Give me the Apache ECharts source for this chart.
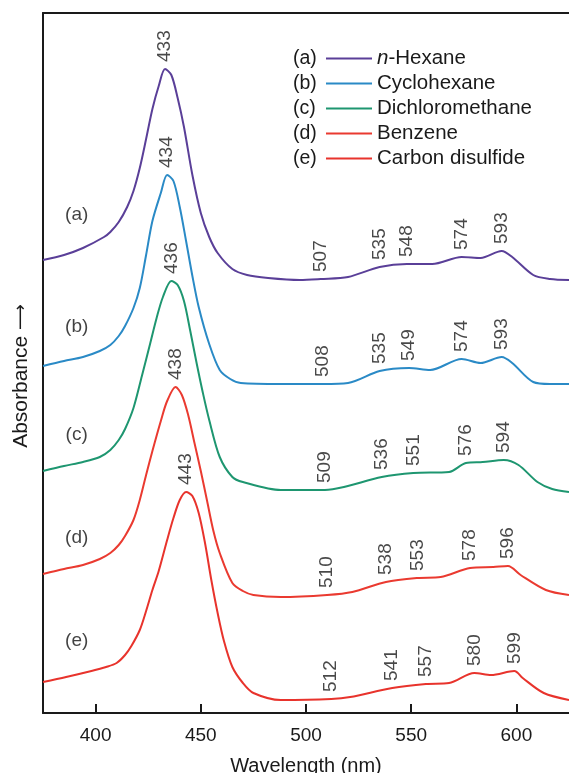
<!DOCTYPE html>
<html>
<head>
<meta charset="utf-8">
<script src="https://cdn.jsdelivr.net/npm/echarts@6/dist/echarts.min.js"></script>
<style>
  html, body { margin: 0; padding: 0; background: #fff; }
  #chart { width: 569px; height: 773px; }
</style>
</head>
<body>
<div id="chart"></div>
<script>
// UV-vis spectra of the same compound in five solvents (offset for clarity)
const solvents = ['n-Hexane', 'Cyclohexane', 'Dichloromethane', 'Benzene', 'Carbon disulfide']
const tags = ['(a)', '(b)', '(c)', '(d)', '(e)']
const colors = ['#5a3f98', '#2a8ac6', '#1e9670', '#ea3a30', '#e8332c']

const waveA = [375, 385, 394, 404, 407, 411, 415, 418, 421, 424, 427, 430, 433, 436, 439, 442, 446, 450, 454, 458, 465, 472, 482, 497, 507, 520, 535, 548, 560, 574, 583, 593, 598, 608, 616, 625]
const absA = [4.53, 4.58, 4.65, 4.76, 4.81, 4.91, 5.06, 5.22, 5.45, 5.74, 6.04, 6.27, 6.44, 6.38, 6.15, 5.86, 5.38, 5.00, 4.76, 4.60, 4.44, 4.38, 4.35, 4.33, 4.34, 4.36, 4.46, 4.49, 4.49, 4.56, 4.55, 4.62, 4.56, 4.38, 4.34, 4.33]

const waveB = [375, 385, 394, 402, 407, 411, 414, 418, 421, 424, 427, 431, 434, 437, 440, 443, 446, 449, 454, 459, 464, 469, 488, 508, 520, 535, 549, 559, 574, 583, 593, 598, 608, 616, 625]
const absB = [3.47, 3.52, 3.56, 3.62, 3.68, 3.77, 3.87, 4.05, 4.25, 4.58, 4.92, 5.20, 5.38, 5.32, 5.06, 4.72, 4.37, 4.06, 3.69, 3.43, 3.34, 3.30, 3.29, 3.29, 3.30, 3.42, 3.45, 3.43, 3.54, 3.50, 3.56, 3.50, 3.31, 3.29, 3.29]

const waveC = [375, 385, 394, 402, 407, 411, 414, 418, 422, 426, 429, 432, 436, 439, 442, 445, 448, 451, 454, 459, 465, 470, 488, 509, 518, 536, 551, 568, 576, 584, 594, 601, 610, 617, 625]
const absC = [2.42, 2.47, 2.51, 2.56, 2.63, 2.73, 2.84, 3.05, 3.37, 3.70, 3.95, 4.16, 4.32, 4.28, 4.12, 3.82, 3.50, 3.20, 2.93, 2.56, 2.36, 2.31, 2.23, 2.23, 2.26, 2.36, 2.40, 2.41, 2.50, 2.51, 2.53, 2.48, 2.31, 2.24, 2.21]

const waveD = [375, 385, 394, 402, 407, 411, 414, 418, 421, 424, 427, 431, 434, 438, 441, 444, 447, 450, 453, 456, 459, 465, 470, 475, 488, 510, 522, 538, 553, 564, 578, 589, 596, 602, 614, 625]
const absD = [1.39, 1.44, 1.48, 1.54, 1.60, 1.68, 1.77, 1.93, 2.13, 2.38, 2.62, 2.92, 3.12, 3.26, 3.18, 2.98, 2.70, 2.42, 2.12, 1.82, 1.60, 1.30, 1.22, 1.18, 1.16, 1.18, 1.21, 1.31, 1.35, 1.36, 1.45, 1.46, 1.47, 1.38, 1.23, 1.18]

const waveE = [375, 386, 398, 405, 410, 414, 417, 421, 424, 427, 430, 434, 437, 440, 443, 446, 449, 452, 455, 458, 461, 465, 470, 475, 488, 512, 521, 541, 557, 568, 580, 588, 599, 603, 613, 625]
const absE = [0.31, 0.36, 0.42, 0.46, 0.50, 0.58, 0.67, 0.83, 1.02, 1.23, 1.42, 1.73, 1.95, 2.13, 2.21, 2.17, 2.00, 1.70, 1.33, 1.00, 0.72, 0.46, 0.30, 0.20, 0.13, 0.14, 0.16, 0.25, 0.29, 0.30, 0.40, 0.38, 0.42, 0.35, 0.20, 0.13]

// labelled band maxima (nm)
const peaksA = [433, 507, 535, 548, 574, 593]
const peaksB = [434, 508, 535, 549, 574, 593]
const peaksC = [436, 509, 536, 551, 576, 594]
const peaksD = [438, 510, 538, 553, 578, 596]
const peaksE = [443, 512, 541, 557, 580, 599]

// where the (a)...(e) tags sit
const tagWave = 391
const tagAbs = [4.98, 3.86, 2.78, 1.75, 0.72]

const xTicks = [400, 450, 500, 550, 600]

const waves = [waveA, waveB, waveC, waveD, waveE]
const absorb = [absA, absB, absC, absD, absE]
const peaks = [peaksA, peaksB, peaksC, peaksD, peaksE]

const FONT = 'Liberation Sans, Arial, sans-serif'
const INK = '#1a1a1a'
const chart = echarts.init(document.getElementById('chart'))

const lineSeries = solvents.map((name, i) => ({
  name,
  type: 'line',
  data: waves[i].map((w, j) => [w, absorb[i][j]]),
  smooth: 0.3,
  showSymbol: false,
  lineStyle: { color: colors[i], width: 2 },
  itemStyle: { color: colors[i] },
  z: 3,
}))

const peakSeries = solvents.map((name, i) => ({
  type: 'scatter',
  silent: true,
  symbolSize: 0,
  data: peaks[i].map((p) => [p, absorb[i][waves[i].indexOf(p)]]),
  label: {
    show: true,
    position: 'top',
    distance: 7,
    rotate: 90,
    align: 'left',
    verticalAlign: 'middle',
    formatter: (p) => String(p.value[0]),
    fontFamily: FONT,
    fontSize: 19,
    color: INK,
  },
  z: 4,
}))

const tagSeries = {
  type: 'scatter',
  silent: true,
  symbolSize: 0,
  data: tags.map((t, i) => ({ value: [tagWave, tagAbs[i]], name: t })),
  label: {
    show: true,
    position: 'top',
    distance: 0,
    verticalAlign: 'middle',
    formatter: (p) => p.name,
    fontFamily: FONT,
    fontSize: 19,
    color: '#111',
  },
  z: 4,
}

chart.setOption({
  animation: false,
  grid: { left: 43, right: 0, top: 13, bottom: 60, outerBoundsMode: 'none' },
  legend: [
    {
      data: solvents,
      orient: 'vertical',
      left: 288,
      top: 46,
      padding: 0,
      itemGap: 0,
      itemWidth: 0,
      itemHeight: 2,
      icon: 'rect',
      selectedMode: false,
      formatter: (name) => tags[solvents.indexOf(name)],
      textStyle: { fontFamily: FONT, fontSize: 19.5, color: INK, lineHeight: 25 },
    },
    {
      data: solvents,
      orient: 'vertical',
      left: 326,
      top: 46,
      padding: 0,
      itemGap: 0,
      itemWidth: 46,
      itemHeight: 2,
      icon: 'rect',
      selectedMode: false,
      formatter: (name) => (name === 'n-Hexane' ? '{i|n}-Hexane' : name),
      textStyle: {
        fontFamily: FONT,
        fontSize: 20.5,
        color: INK,
        lineHeight: 25,
        rich: { i: { fontFamily: FONT, fontSize: 20.5, fontStyle: 'italic', color: INK, lineHeight: 25 } },
      },
    },
  ],
  xAxis: [
    {
      type: 'value',
      min: 375,
      max: 625,
      name: 'Wavelength (nm)',
      nameLocation: 'middle',
      nameGap: 43,
      nameTextStyle: { fontFamily: FONT, fontSize: 20, color: INK },
      axisLine: { lineStyle: { color: INK, width: 2 } },
      axisTick: { inside: true, length: 9, lineStyle: { color: INK, width: 2 }, customValues: xTicks },
      axisLabel: { margin: 13, fontFamily: FONT, fontSize: 19, color: INK, customValues: xTicks },
      splitLine: { show: false },
    },
    {
      type: 'value',
      position: 'top',
      min: 375,
      max: 625,
      axisLine: { show: true, lineStyle: { color: INK, width: 2 } },
      axisTick: { show: false },
      axisLabel: { show: false },
      splitLine: { show: false },
    },
  ],
  yAxis: {
    type: 'value',
    min: 0,
    max: 7,
    name: 'Absorbance {arr|⟶}',
    nameLocation: 'middle',
    nameGap: 11,
    nameTextStyle: {
      fontFamily: FONT,
      fontSize: 21,
      color: INK,
      padding: [0, 26, 0, 0],
      rich: { arr: { fontFamily: 'DejaVu Sans', fontSize: 18, color: INK } },
    },
    axisLine: { show: true, lineStyle: { color: INK, width: 2 } },
    axisTick: { show: false },
    axisLabel: { show: false },
    splitLine: { show: false },
  },
  series: [...lineSeries, ...peakSeries, tagSeries],
})
</script>
</body>
</html>
